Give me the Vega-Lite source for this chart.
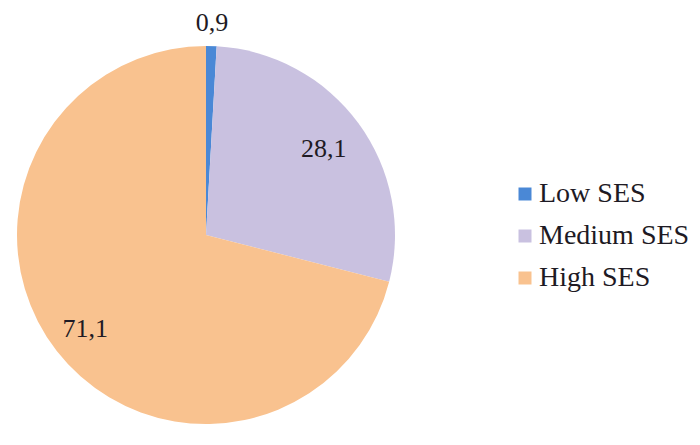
{
  "$schema": "https://vega.github.io/schema/vega-lite/v6.json",
  "width": 412,
  "height": 420,
  "autosize": {"type": "none"},
  "padding": {"left": 0, "top": 25, "right": 288, "bottom": 0},
  "background": "white",
  "config": {
    "legend": {"labelFont": "Liberation Serif", "labelFontSize": 28, "labelColor": "#1e1a24"},
    "text": {"font": "Liberation Serif"}
  },
  "data": {
    "values": [
      {"cat": "Low SES", "value": 0.9, "lbl": "0,9", "idx": 1},
      {"cat": "Medium SES", "value": 28.1, "lbl": "28,1", "idx": 2},
      {"cat": "High SES", "value": 71.1, "lbl": "71,1", "idx": 3}
    ]
  },
  "encoding": {
    "theta": {"field": "value", "type": "quantitative", "stack": true},
    "order": {"field": "idx", "type": "quantitative"}
  },
  "layer": [
    {
      "mark": {"type": "arc", "radius": 189, "stroke": null},
      "encoding": {
        "color": {
          "field": "cat",
          "type": "nominal",
          "sort": ["Low SES", "Medium SES", "High SES"],
          "scale": {"domain": ["Low SES", "Medium SES", "High SES"], "range": ["#4a88d6", "#c9c1e0", "#f9c28f"]},
          "legend": {
            "title": null,
            "orient": "none",
            "legendX": 511,
            "legendY": 155,
            "symbolType": "square",
            "symbolSize": 169,
            "symbolStrokeWidth": 0,
            "labelFont": "Liberation Serif",
            "labelFontSize": 28,
            "labelColor": "#1e1a24",
            "labelOffset": 0,
            "rowPadding": 14,
            "labelLimit": 300
          }
        }
      }
    },
    {
      "mark": {"type": "text", "radius": 212, "font": "Liberation Serif", "fontSize": 26, "color": "#1e1a24", "baseline": "middle", "align": "center"},
      "encoding": {"text": {"condition": {"test": "datum.cat === 'Low SES'", "field": "lbl"}, "value": ""}}
    },
    {
      "mark": {"type": "text", "radius": 146, "font": "Liberation Serif", "fontSize": 26, "color": "#1e1a24", "baseline": "middle", "align": "center"},
      "encoding": {"text": {"condition": {"test": "datum.cat === 'Medium SES'", "field": "lbl"}, "value": ""}}
    },
    {
      "mark": {"type": "text", "radius": 153, "font": "Liberation Serif", "fontSize": 26, "color": "#1e1a24", "baseline": "middle", "align": "center"},
      "encoding": {"text": {"condition": {"test": "datum.cat === 'High SES'", "field": "lbl"}, "value": ""}}
    }
  ]
}
